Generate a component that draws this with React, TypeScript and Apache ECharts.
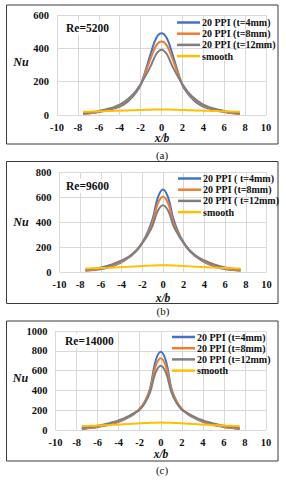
import React, { useEffect, useRef } from "react";
import * as echarts from "echarts";

const xs = [-7.5, -7, -6.5, -6, -5.5, -5, -4.5, -4, -3.5, -3, -2.5, -2, -1.5, -1, -0.5, 0, 0.5, 1, 1.5, 2, 2.5, 3, 3.5, 4, 4.5, 5, 5.5, 6, 6.5, 7, 7.5];

// Panel (a) Re=5200
const a4 = [8, 10, 13, 18, 24, 31, 40, 51, 68, 95, 130, 180, 272, 375, 462, 490, 462, 375, 272, 180, 130, 95, 68, 51, 40, 31, 24, 18, 13, 10, 8];
const a8 = [6, 9, 13, 19, 26, 34, 44, 57, 76, 102, 135, 182, 260, 345, 418, 441, 418, 345, 260, 182, 135, 102, 76, 57, 44, 34, 26, 19, 13, 9, 6];
const a12 = [11, 14, 18, 24, 31, 39, 49, 62, 82, 108, 140, 185, 238, 298, 366, 392, 366, 298, 238, 185, 140, 108, 82, 62, 49, 39, 31, 24, 18, 14, 11];
const aSmooth = [20, 20, 21, 22, 23, 24, 25, 26, 27, 28, 29, 30, 31, 32, 33, 33, 33, 32, 31, 30, 29, 28, 27, 26, 25, 24, 23, 22, 21, 20, 20];

// Panel (b) Re=9600
const b4 = [11, 14, 18, 24, 32, 44, 60, 80, 105, 135, 175, 235, 315, 425, 595, 660, 595, 425, 315, 235, 175, 135, 105, 80, 60, 44, 32, 24, 18, 14, 11];
const b8 = [11, 15, 20, 27, 36, 48, 64, 84, 108, 138, 178, 232, 305, 400, 548, 602, 548, 400, 305, 232, 178, 138, 108, 84, 64, 48, 36, 27, 20, 15, 11];
const b12 = [20, 24, 29, 36, 46, 58, 74, 93, 113, 142, 180, 232, 293, 372, 490, 535, 490, 372, 293, 232, 180, 142, 113, 93, 74, 58, 46, 36, 29, 24, 20];
const bSmooth = [28, 29, 30, 32, 33, 35, 37, 39, 41, 43, 45, 48, 50, 52, 54, 55, 54, 52, 50, 48, 45, 43, 41, 39, 37, 35, 33, 32, 30, 29, 28];

// Panel (c) Re=14000
const c4 = [11, 16, 22, 30, 39, 50, 64, 82, 105, 132, 165, 210, 285, 425, 695, 790, 695, 425, 285, 210, 165, 132, 105, 82, 64, 50, 39, 30, 22, 16, 11];
const c8 = [14, 19, 25, 33, 43, 55, 70, 88, 110, 137, 170, 215, 290, 412, 640, 725, 640, 412, 290, 215, 170, 137, 110, 88, 70, 55, 43, 33, 25, 19, 14];
const c12 = [23, 29, 36, 44, 53, 65, 80, 98, 118, 142, 172, 205, 272, 385, 578, 650, 578, 385, 272, 205, 172, 142, 118, 98, 80, 65, 53, 44, 36, 29, 23];
const cSmooth = [40, 41, 43, 45, 47, 49, 52, 55, 58, 61, 64, 67, 70, 72, 74, 75, 74, 72, 70, 67, 64, 61, 58, 55, 52, 49, 47, 45, 43, 41, 40];

const namesA = ["20 PPI (t=4mm)", "20 PPI (t=8mm)", "20 PPI (t=12mm)", "smooth"];
const namesB = ["20 PPI ( t=4mm)", "20 PPI (t=8mm)", "20 PPI ( t=12mm)", "smooth"];
const namesC = ["20 PPI (t=4mm)", "20 PPI (t=8mm)", "20 PPI (t=12mm)", "smooth"];

const yMaxes = [600, 800, 1000];
const reLabels = ["Re=5200", "Re=9600", "Re=14000"];
const captions = ["(a)", "(b)", "(c)"];

const colors = ["#4472C4", "#ED7D31", "#7F7F7F", "#FFC000"];
const SERIF = "Liberation Serif, Times New Roman, serif";

export default function App() {
  const ref = useRef<HTMLDivElement>(null);
  useEffect(() => {
    document.body.style.margin = "0";
    const chart = echarts.init(ref.current!, undefined, { renderer: "svg" });

    const panels = [
      { data: [a4, a8, a12, aSmooth], names: namesA, grid: { left: 57, right: 20, top: 15, height: 100 }, legend: { left: 177, top: 17 }, border: [6.5, 5, 271.5, 139], nu: [21, 62], xb: [162, 138], re: [65, 28], cap: [162, 155] },
      { data: [b4, b8, b12, bSmooth], names: namesB, grid: { left: 59.5, right: 19.5, top: 172, height: 100 }, legend: { left: 178, top: 173 }, border: [6.5, 161.5, 271.5, 142], nu: [21, 222], xb: [163, 298], re: [65, 186], cap: [163, 311] },
      { data: [c4, c8, c12, cSmooth], names: namesC, grid: { left: 55.5, right: 20, top: 331, height: 99 }, legend: { left: 172, top: 331.5 }, border: [6.5, 321, 271.5, 140], nu: [20.5, 378], xb: [161, 454], re: [64, 341], cap: [162, 470] },
    ];

    const grids: any[] = [];
    const xAxes: any[] = [];
    const yAxes: any[] = [];
    const series: any[] = [];
    const legends: any[] = [];
    const graphics: any[] = [];

    panels.forEach((p, i) => {
      grids.push({ ...p.grid, containLabel: false });
      xAxes.push({
        type: "value", gridIndex: i, min: -10, max: 10, interval: 2,
        axisLine: { show: false }, axisTick: { show: false },
        splitLine: { show: true, lineStyle: { color: "#D9D9D9", width: 1 } },
        axisLabel: { color: "#111", fontFamily: SERIF, fontWeight: "bold", fontSize: 10.5, margin: 7, formatter: (v: number) => String(v) },
      });
      yAxes.push({
        type: "value", gridIndex: i, min: 0, max: yMaxes[i], interval: 200,
        axisLine: { show: false }, axisTick: { show: false },
        splitLine: { show: true, lineStyle: { color: "#D9D9D9", width: 1 } },
        axisLabel: { color: "#111", fontFamily: SERIF, fontWeight: "bold", fontSize: 10.5, margin: 8, formatter: (v: number) => String(v) },
      });
      p.data.forEach((ys, k) => {
        series.push({
          type: "line", name: p.names[k], xAxisIndex: i, yAxisIndex: i,
          data: xs.map((x, j) => [x, ys[j]]),
          smooth: 0.4, symbol: "none", showSymbol: false,
          lineStyle: { color: colors[k], width: 2 }, itemStyle: { color: colors[k] },
          z: 2 + k,
        });
      });
      legends.push({
        orient: "vertical", left: p.legend.left, top: p.legend.top,
        data: p.names, icon: "rect", itemWidth: 23, itemHeight: 2.5, itemGap: 0.2,
        padding: 0, selectedMode: false,
        textStyle: { fontFamily: SERIF, fontWeight: "bold", fontSize: 10, color: "#111", lineHeight: 11, padding: [0, 0, 0, -3] },
      });
      const [bx, by, bw, bh] = p.border;
      graphics.push({ type: "rect", shape: { x: bx, y: by, width: bw, height: bh }, style: { fill: "none", stroke: "#3a3a3a", lineWidth: 1 }, silent: true });
      graphics.push({ type: "text", x: p.nu[0], y: p.nu[1], style: { text: "Nu", fontFamily: SERIF, fontWeight: "bold", fontStyle: "italic", fontSize: 12, fill: "#111", align: "center", verticalAlign: "middle" } });
      graphics.push({ type: "text", x: p.xb[0], y: p.xb[1], style: { text: "x/b", fontFamily: SERIF, fontWeight: "bold", fontStyle: "italic", fontSize: 11.5, fill: "#111", align: "center", verticalAlign: "middle" } });
      graphics.push({ type: "text", x: p.re[0], y: p.re[1], z: 10, style: { text: reLabels[i], fontFamily: SERIF, fontWeight: "bold", fontSize: 11.5, fill: "#111", align: "left", verticalAlign: "middle", backgroundColor: "#fff", padding: [1, 1, 1, 1] } });
      graphics.push({ type: "text", x: p.cap[0], y: p.cap[1], style: { text: captions[i], fontFamily: SERIF, fontSize: 11, fill: "#111", align: "center", verticalAlign: "middle" } });
    });

    chart.setOption({
      animation: false,
      backgroundColor: "#fff",
      grid: grids,
      xAxis: xAxes,
      yAxis: yAxes,
      series,
      legend: legends,
      graphic: graphics,
    });
    return () => chart.dispose();
  }, []);
  return <div ref={ref} style={{ width: 286, height: 480 }} />;
}
